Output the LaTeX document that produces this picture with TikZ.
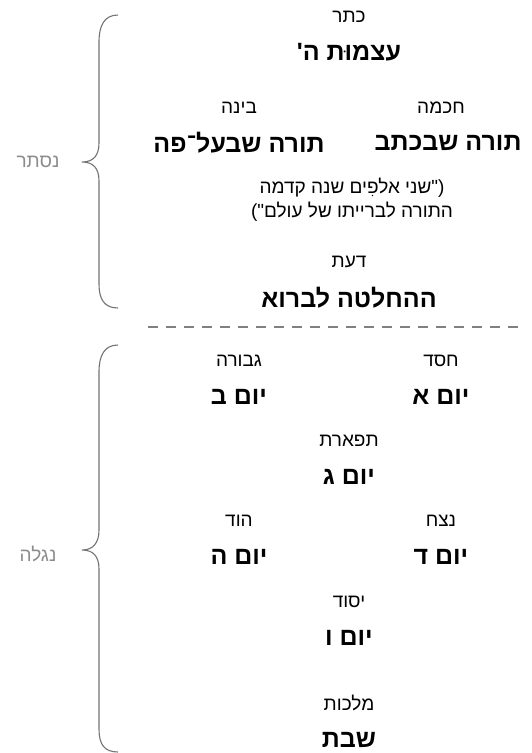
\documentclass[tikz,border=0pt]{standalone}
\usepackage{fontspec}
\newfontfamily\hebfont[Script=Hebrew]{Liberation Sans}
\TeXXeTstate=1
\usepackage{tikz}
\usetikzlibrary{positioning}

\tikzset{
  sefira/.style={font=\hebfont\fontsize{19}{22}\selectfont, text=black, inner sep=0pt},
  meaning/.style={font=\hebfont\bfseries\fontsize{25}{30}\selectfont, text=black, inner sep=0pt},
  note/.style={font=\hebfont\fontsize{19}{24}\selectfont, align=center, inner sep=0pt},
  side/.style={font=\hebfont\fontsize{19}{22}\selectfont, text=black!45, inner sep=0pt},
  bracket/.style={draw=black!55, line width=1.1pt}
}

\begin{document}
\begin{tikzpicture}[x=1pt, y=-1pt]
    \useasboundingbox (0,0) rectangle (531,753);
    % hidden part
    \node (keter) [sefira] at (349,17) {כתר};
    \node (atzmut) [meaning, below=35pt of keter.center, anchor=center] {\beginR עצמוּת ה'\endR};
    \node (bina) [sefira] at (239,108) {בינה};
    \node (chochma) [sefira] at (441,108) {חכמה};
    \node (oral) [meaning, below=35pt of bina.center, anchor=center] {\beginR תורה שבעל־פה\endR};
    \node (written) [meaning, below=35pt of chochma.center, anchor=center, xshift=7pt] {\beginR תורה שבכתב\endR};
    \node (alpaim) [note] at (352,200) {\beginR("שני אלפִים שנה קדמה\endR\\\beginR התורה לברייתו של עולם")\endR};
    \node (daat) [sefira] at (349,262) {דעת};
    \node (decision) [meaning, below=36pt of daat.center, anchor=center] {\beginR ההחלטה לברוא\endR};
    % revealed part
    \node (gevura) [sefira] at (239,361) {גבורה};
    \node (chesed) [sefira] at (441,361) {חסד};
    \node (day2) [meaning, below=36pt of gevura.center, anchor=center] {\beginR יום ב\endR};
    \node (day1) [meaning, below=36pt of chesed.center, anchor=center] {\beginR יום א\endR};
    \node (tiferet) [sefira] at (349,441) {תפארת};
    \node (day3) [meaning, below=36pt of tiferet.center, anchor=center] {\beginR יום ג\endR};
    \node (hod) [sefira] at (239,521) {הוד};
    \node (netzach) [sefira] at (441,521) {נצח};
    \node (day5) [meaning, below=36pt of hod.center, anchor=center] {\beginR יום ה\endR};
    \node (day4) [meaning, below=36pt of netzach.center, anchor=center] {\beginR יום ד\endR};
    \node (yesod) [sefira] at (349,602) {יסוד};
    \node (day6) [meaning, below=36pt of yesod.center, anchor=center] {\beginR יום ו\endR};
    \node (malchut) [sefira] at (349,703) {מלכות};
    \node (shabbat) [meaning, below=37pt of malchut.center, anchor=center] {שבת};
    % divider
    \coordinate (divl) at (148,327);
    \coordinate (divr) at (522,327);
    \draw[black!50, line width=2pt, dash pattern=on 10pt off 8pt] (divl) -- (divr);
    % braces
    \node (nistar) [side] at (38,162) {נסתר};
    \node (nigla) [side] at (38,554) {נגלה};
    \draw[bracket] (118,15) .. controls (104,15) and (99,26) .. (99,42) -- (99,143)
        .. controls (99,156) and (93,162) .. (82,162)
        .. controls (93,162) and (99,168) .. (99,181) -- (99,284)
        .. controls (99,299) and (104,308) .. (118,308);
    \draw[bracket] (118,345) .. controls (104,345) and (99,356) .. (99,372) -- (99,530)
        .. controls (99,543) and (93,550) .. (82,550)
        .. controls (93,550) and (99,556) .. (99,569) -- (99,729)
        .. controls (99,744) and (104,752) .. (118,752);
\end{tikzpicture}
\end{document}
